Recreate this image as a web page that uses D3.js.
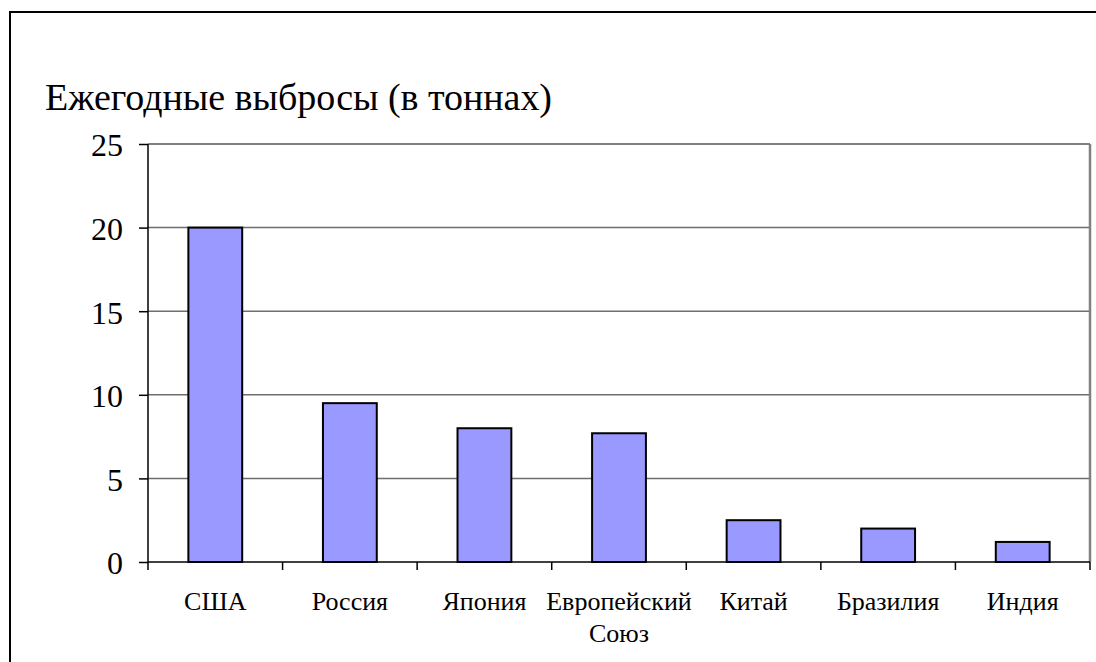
<!DOCTYPE html>
<html><head><meta charset="utf-8">
<script src="https://cdn.jsdelivr.net/npm/d3@7"></script>
<style>html,body{margin:0;background:#fff;overflow:hidden}svg{display:block;overflow:hidden}</style>
</head><body>
<script>
const categories = [["США"],["Россия"],["Япония"],["Европейский","Союз"],["Китай"],["Бразилия"],["Индия"]];
const values = [20, 9.5, 8.0, 7.7, 2.5, 2.0, 1.2];
const yTicks = [0,5,10,15,20,25];
const title = "Ежегодные выбросы (в тоннах)";

const FONT='"Liberation Serif"';
const W=1096,H=662;
const svg=d3.select("body").append("svg").attr("width",W).attr("height",H);
svg.append("rect").attr("x",10).attr("y",12).attr("width",1200).attr("height",800)
  .attr("fill","#fff").attr("stroke","#000").attr("stroke-width",2);

const L=148,R=1090,T=144,B=562;
const keys=categories.map((c,i)=>i);
const x=d3.scaleBand().domain(keys).range([L,R]).paddingInner(0.6).paddingOuter(0.3);
const xb=d3.scaleBand().domain(keys).range([L,R]);
const y=d3.scaleLinear().domain([0,25]).range([B,T]);

// grid
svg.append("g").selectAll("line").data(yTicks.filter(d=>d>0)).join("line")
  .attr("x1",L).attr("x2",R).attr("y1",d=>y(d)).attr("y2",d=>y(d))
  .attr("stroke",d=>d===25?"#808080":"#6e6e6e").attr("stroke-width",d=>d===25?2:1.5);
svg.append("line").attr("x1",R).attr("x2",R).attr("y1",T).attr("y2",B)
  .attr("stroke","#808080").attr("stroke-width",2.5);

// bars
svg.append("g").selectAll("rect").data(values).join("rect")
  .attr("x",(d,i)=>x(i)).attr("width",x.bandwidth())
  .attr("y",d=>y(d)).attr("height",d=>B-y(d))
  .attr("fill","#9999ff").attr("stroke","#000").attr("stroke-width",2);

// y axis
const ya=svg.append("g").attr("transform",`translate(${L},0)`)
  .call(d3.axisLeft(y).tickValues(yTicks).tickSize(9).tickPadding(16).tickFormat(d3.format("d")));
ya.select(".domain").attr("stroke","#000").attr("stroke-width",1.5).attr("d",`M0,${T}V${B}`);
ya.selectAll(".tick line").attr("stroke","#000").attr("stroke-width",1.5);
ya.selectAll("text").style("font-family",FONT).attr("font-size",32).attr("dy","0.37em").attr("fill","#000");

// x axis
const xa=svg.append("g").attr("transform",`translate(0,${B})`);
xa.append("line").attr("x1",L).attr("x2",R).attr("stroke","#000").attr("stroke-width",1.5);
const tickPos=keys.map(i=>xb(i)).concat([R]);
xa.selectAll("line.t").data(tickPos).join("line").attr("class","t")
  .attr("x1",d=>d).attr("x2",d=>d).attr("y1",0).attr("y2",8).attr("stroke","#000").attr("stroke-width",1.5);
const lbl=xa.selectAll("text").data(categories).join("text")
  .attr("x",(d,i)=>xb(i)+xb.bandwidth()/2).attr("y",48)
  .attr("text-anchor","middle").style("font-family",FONT).attr("font-size",26).attr("fill","#000");
lbl.selectAll("tspan").data(d=>d).join("tspan")
  .attr("x",function(){return this.parentNode.getAttribute("x");})
  .attr("dy",(d,j)=>j===0?0:32).text(d=>d);

svg.append("text").attr("x",45).attr("y",110).style("font-family",FONT).attr("font-size",38)
  .attr("textLength",507).attr("lengthAdjust","spacing")
  .attr("fill","#000").text(title);
</script>
</body></html>
